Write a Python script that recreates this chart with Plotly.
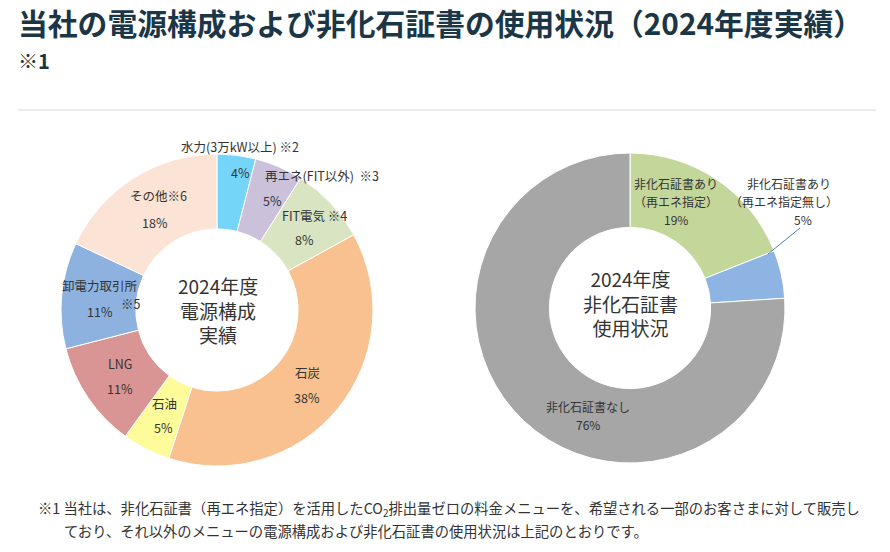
import plotly.graph_objects as go

W, H = 890, 552

# ---- data ----
mix_labels = ["水力(3万kW以上) ※2", "再エネ(FIT以外) ※3", "FIT電気 ※4", "石炭", "石油", "LNG", "卸電力取引所 ※5", "その他※6"]
mix_values = [4, 5, 8, 38, 5, 11, 11, 18]
mix_colors = ["#75D5F8", "#CCC1DB", "#D8E4C2", "#F8C18F", "#FDFB9A", "#D99594", "#8EB2DF", "#FBE4D5"]

cert_labels = ["非化石証書あり（再エネ指定）", "非化石証書あり（再エネ指定無し）", "非化石証書なし"]
cert_values = [19, 5, 76]
cert_colors = ["#C4D79B", "#8EB4E3", "#A6A6A6"]

title_text = "当社の電源構成および非化石証書の使用状況（2024年度実績）"
note_text = "※1"
left_center = "2024年度<br>電源構成<br>実績"
right_center = "2024年度<br>非化石証書<br>使用状況"
foot1 = "※1 当社は、非化石証書（再エネ指定）を活用したCO<sub>2</sub>排出量ゼロの料金メニューを、希望される一部のお客さまに対して販売し"
foot2 = "ており、それ以外のメニューの電源構成および非化石証書の使用状況は上記のとおりです。"

# ---- label layout (pixel positions, styles) ----
mix_label_text = [
    ("水力(3万kW以上) ※2", 240, 147), ("4%", 240, 172),
    ("再エネ(FIT以外)  ※3", 322, 176), ("5%", 272, 201),
    ("FIT電気 ※4", 314, 215), ("8%", 304, 240),
    ("石炭", 307, 372), ("38%", 307, 397),
    ("石油", 164, 403), ("5%", 163, 427),
    ("LNG", 120, 363), ("11%", 120, 388),
    ("卸電力取引所", 100, 285), ("※5", 131, 303), ("11%", 100, 311),
    ("その他※6", 158, 195), ("18%", 155, 222),
]
cert_label_text = [
    ("非化石証書あり", 676, 184), ("（再エネ指定）", 676, 201.5), ("19%", 676, 219),
    ("非化石証書あり", 789, 184), ("（再エネ指定無し）", 784, 201.5), ("5%", 803, 219),
    ("非化石証書なし", 588, 406), ("76%", 588, 424),
]

def px(x, y):
    return x / W, 1 - y / H

def dom(cx, cy, r):
    return dict(x=[(cx - r) / W, (cx + r) / W], y=[1 - (cy + r) / H, 1 - (cy - r) / H])

FONT = "Noto Sans CJK JP"

fig = go.Figure()
fig.add_trace(go.Pie(
    values=mix_values, labels=mix_labels, sort=False, direction="clockwise", rotation=0,
    hole=0.52, domain=dom(217, 310, 156), textinfo="none",
    marker=dict(colors=mix_colors, line=dict(color="white", width=1)),
    showlegend=False, hoverinfo="label+percent",
))
fig.add_trace(go.Pie(
    values=cert_values, labels=cert_labels, sort=False, direction="clockwise", rotation=0,
    hole=0.52, domain=dom(630, 308, 155), textinfo="none",
    marker=dict(colors=cert_colors, line=dict(color="white", width=1)),
    showlegend=False, hoverinfo="label+percent",
))

ann = []
def add_text(t, x, y, size, color="#333333", weight="normal", xanchor="center", yanchor="middle", family=FONT):
    ax, ay = px(x, y)
    ann.append(dict(text=t, x=ax, y=ay, xref="paper", yref="paper", showarrow=False,
                    xanchor=xanchor, yanchor=yanchor, align="center" if xanchor == "center" else "left",
                    font=dict(size=size, color=color, family=family, weight=weight)))

for t, x, y in mix_label_text:
    add_text(t, x, y, 12.5)
for t, x, y in cert_label_text:
    add_text(t, x, y, 12)

add_text(left_center, 218, 310, 19)
add_text(right_center, 630, 303, 19)

add_text(title_text, 16, 22, 29.8, color="#1B3646", weight="bold", xanchor="left")
add_text(note_text, 16, 60, 20, color="#1B3646", weight="bold", xanchor="left")
add_text(foot1, 36, 508, 14.3, color="#333333", xanchor="left")
add_text(foot2, 62, 530, 14.3, color="#333333", xanchor="left")

shapes = [
    dict(type="line", xref="paper", yref="paper", x0=18 / W, x1=876 / W, y0=1 - 110 / H, y1=1 - 110 / H,
         line=dict(color="#D9D9D9", width=1)),
    dict(type="line", xref="paper", yref="paper", x0=800 / W, y0=1 - 228 / H, x1=768 / W, y1=1 - 254 / H,
         line=dict(color="#4F81BD", width=1)),
]

fig.update_layout(
    width=W, height=H, margin=dict(l=0, r=0, t=0, b=0),
    paper_bgcolor="white", plot_bgcolor="white",
    annotations=ann, shapes=shapes,
    font=dict(family=FONT),
)
fig.write_html("out.html")
